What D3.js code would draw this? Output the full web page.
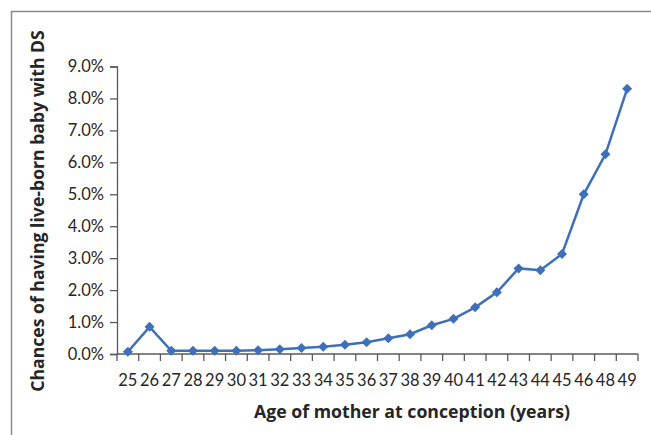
<!DOCTYPE html>
<html><head><meta charset="utf-8">
<script src="https://cdn.jsdelivr.net/npm/d3@7"></script>
<style>body{margin:0;background:#fff}svg{display:block}</style>
</head><body>
<script>
const ages = ["25","26","27","28","29","30","31","32","33","34","35","36","37","38","39","40","41","42","43","44","45","46","48","49"];
const chances = [0.07,0.85,0.10,0.10,0.10,0.10,0.12,0.15,0.19,0.23,0.29,0.37,0.49,0.62,0.90,1.10,1.46,1.93,2.68,2.62,3.13,5.00,6.25,8.30];
const yTicks = [0,1,2,3,4,5,6,7,8,9];

const W=651,H=435;
const svg=d3.select("body").append("svg").attr("width",W).attr("height",H);
const font="Lato, 'Open Sans', sans-serif";
const tfont="'Open Sans', 'Noto Sans', sans-serif";
const txt="#262626", axc="#5a5a5a";

// frame
svg.append("path").attr("d","M11.5,435 V11.5 H651").attr("fill","none").attr("stroke","#8a8a8a").attr("stroke-width",1.5);

const x=d3.scaleBand().domain(ages).range([117,638]);
const y=d3.scaleLinear().domain([0,9]).range([354,66.5]);

// y axis
const ya=svg.append("g").attr("transform","translate(117,0)")
  .call(d3.axisLeft(y).tickValues(yTicks).tickFormat(d=>d.toFixed(1)+"%").tickSizeOuter(0).tickSize(7));
ya.select(".domain").attr("stroke",axc).attr("stroke-width",1.3);
ya.selectAll(".tick line").attr("stroke",axc).attr("stroke-width",1.3);
ya.selectAll("text").attr("font-family",font).attr("font-size",16.5).attr("fill",txt).attr("x",-13);

// x axis: line and boundary ticks
const xa=svg.append("g").attr("transform","translate(0,354)");
xa.append("line").attr("x1",117).attr("x2",638).attr("stroke",axc).attr("stroke-width",1.3);
const bounds=ages.map(a=>x(a)).concat([x(ages[ages.length-1])+x.bandwidth()]);
xa.selectAll("line.t").data(bounds).join("line").attr("class","t")
  .attr("x1",d=>d).attr("x2",d=>d).attr("y1",0).attr("y2",7).attr("stroke",axc).attr("stroke-width",1.3);
xa.selectAll("text").data(ages).join("text")
  .attr("x",d=>x(d)+x.bandwidth()/2).attr("y",32).attr("text-anchor","middle")
  .attr("font-family",font).attr("font-size",16.5).attr("fill",txt).text(d=>d);

// line
const line=d3.line().x((d,i)=>x(ages[i])+x.bandwidth()/2).y(d=>y(d));
svg.append("path").datum(chances).attr("d",line).attr("fill","none").attr("stroke","#3D70B8").attr("stroke-width",2.5);
svg.selectAll("path.m").data(chances).join("path").attr("class","m")
  .attr("d",d3.symbol().type(d3.symbolDiamond2).size(64))
  .attr("transform",(d,i)=>`translate(${x(ages[i])+x.bandwidth()/2},${y(d)})`)
  .attr("fill","#3D70B8");

// titles (fit to reference widths)
function fit(sel,target){const n=sel.node();const w=n.getComputedTextLength();sel.attr("font-size",17*target/w);}
const xt=svg.append("text").attr("x",412).attr("y",418).attr("text-anchor","middle")
  .attr("font-family",tfont).attr("font-weight","bold").attr("font-size",17).attr("fill",txt)
  .text("Age of mother at conception (years)");
fit(xt,316);
const yt=svg.append("text").attr("transform","translate(44,211) rotate(-90)").attr("text-anchor","middle")
  .attr("font-family",tfont).attr("font-weight","bold").attr("font-size",17).attr("fill",txt)
  .text("Chances of having live-born baby with DS");
fit(yt,362);
</script>
</body></html>
